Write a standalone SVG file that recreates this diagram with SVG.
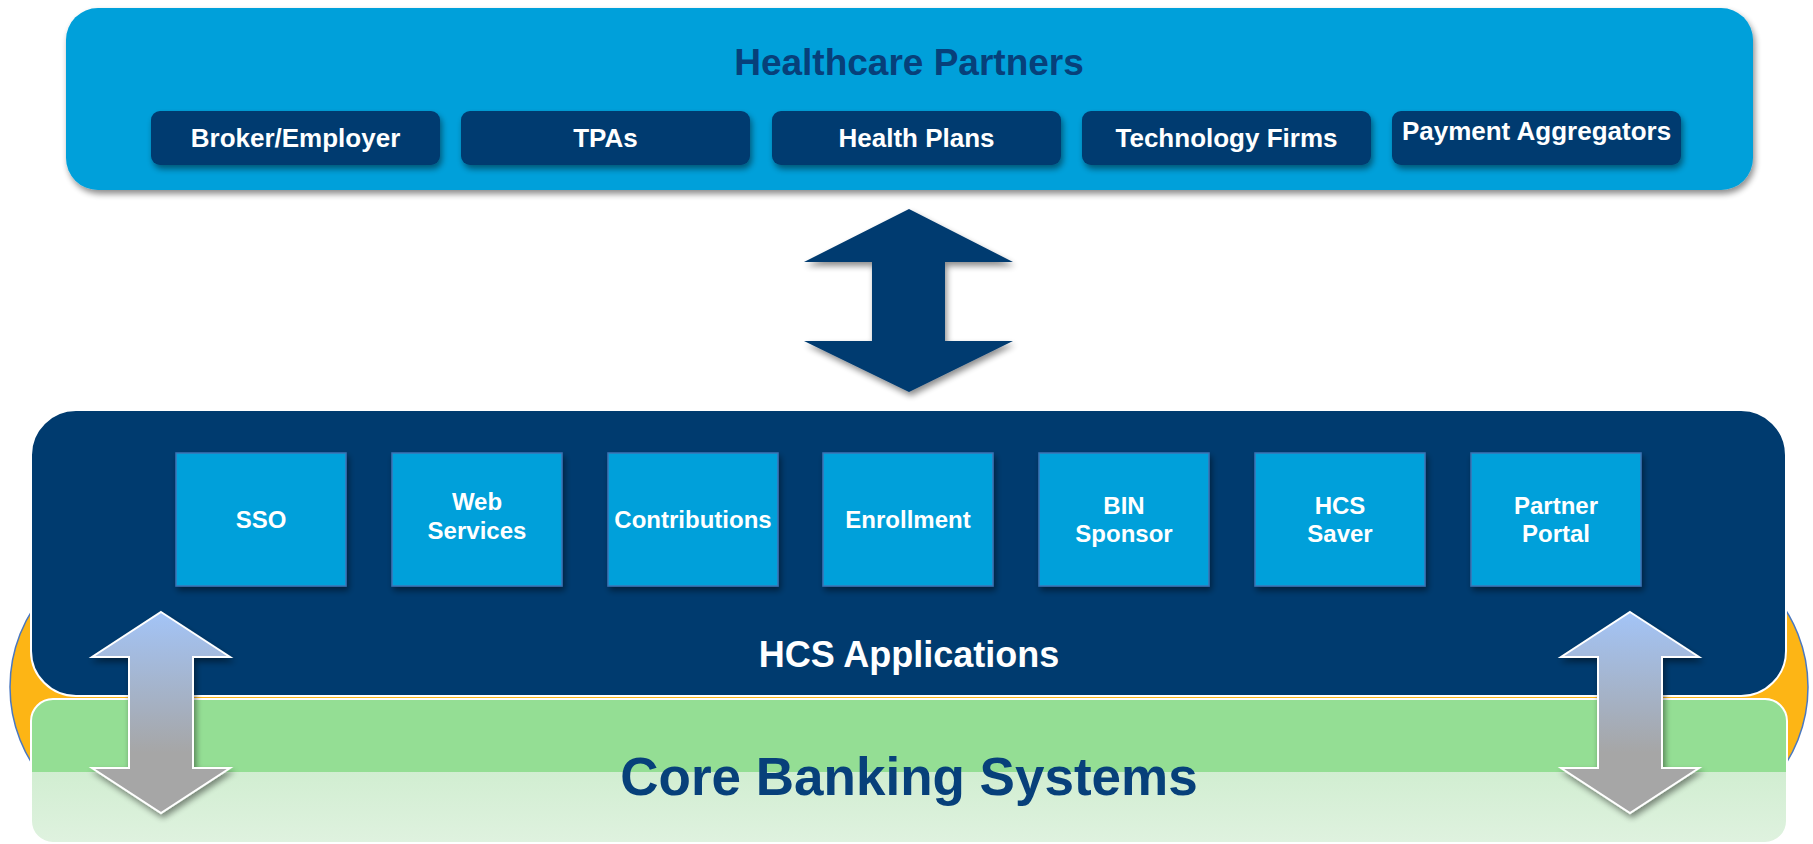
<svg xmlns="http://www.w3.org/2000/svg" width="1813" height="844" viewBox="0 0 1813 844">
<defs>
<style>
.t{font-family:"Liberation Sans",Arial,sans-serif;font-weight:bold;text-anchor:middle}
.pb{fill:#003B6F}
.pt{fill:#ffffff;font-size:26px}
.ab{fill:#00A0DA;stroke:#3D74B5;stroke-width:1.5}
.at{fill:#ffffff;font-size:24px}
.ga{fill:url(#gg);stroke:#ffffff;stroke-width:2}
</style>
<filter id="sh" x="-10%" y="-10%" width="130%" height="140%">
<feGaussianBlur in="SourceAlpha" stdDeviation="3"/>
<feOffset dx="2" dy="4" result="b"/>
<feComponentTransfer><feFuncA type="linear" slope="0.45"/></feComponentTransfer>
<feMerge><feMergeNode/><feMergeNode in="SourceGraphic"/></feMerge>
</filter>
<linearGradient id="gg" x1="0" y1="0" x2="0" y2="1">
<stop offset="0" stop-color="#A3C4F7"/>
<stop offset="0.7" stop-color="#A6A6A6"/>
<stop offset="1" stop-color="#A6A6A6"/>
</linearGradient>
<linearGradient id="gl" x1="0" y1="0" x2="0" y2="1">
<stop offset="0" stop-color="#C3E9C3"/>
<stop offset="1" stop-color="#DFF2DF"/>
</linearGradient>
<clipPath id="cg"><rect x="31" y="699" width="1756" height="144" rx="22"/></clipPath>
</defs>

<g id="orange-ring">
<rect x="10" y="543" width="1798" height="288" rx="144" fill="#FDB515" stroke="#4A78C0" stroke-width="1.5"/>
</g>

<g id="healthcare-partners">
<rect x="66" y="8" width="1687" height="182" rx="32" fill="#00A0DA" filter="url(#sh)"/>
<text class="t" x="909" y="75" font-size="37" fill="#07407A">Healthcare Partners</text>
</g>

<g id="broker-employer"><rect class="pb" x="151" y="111" width="289" height="54" rx="9" filter="url(#sh)"/><text class="t pt" x="295.5" y="147">Broker/Employer</text></g>
<g id="tpas"><rect class="pb" x="461" y="111" width="289" height="54" rx="9" filter="url(#sh)"/><text class="t pt" x="605.5" y="147">TPAs</text></g>
<g id="health-plans"><rect class="pb" x="772" y="111" width="289" height="54" rx="9" filter="url(#sh)"/><text class="t pt" x="916.5" y="147">Health Plans</text></g>
<g id="technology-firms"><rect class="pb" x="1082" y="111" width="289" height="54" rx="9" filter="url(#sh)"/><text class="t pt" x="1226.5" y="147">Technology Firms</text></g>
<g id="payment-aggregators"><rect class="pb" x="1392" y="111" width="289" height="54" rx="9" filter="url(#sh)"/><text class="t pt" x="1536.5" y="140" font-size="25">Payment Aggregators</text></g>

<g id="hcs-applications">
<rect x="31" y="410" width="1755" height="286" rx="45" fill="#003B6F" stroke="#ffffff" stroke-width="2"/>
<text class="t" x="909" y="667" font-size="36" fill="#ffffff">HCS Applications</text>
</g>

<g id="core-banking-systems">
<g clip-path="url(#cg)">
<rect x="31" y="699" width="1756" height="144" fill="url(#gl)"/>
<rect x="31" y="699" width="1756" height="73" fill="#94DE94"/>
</g>
<rect x="31" y="699" width="1756" height="144" rx="22" fill="none" stroke="#ffffff" stroke-width="2"/>
<text class="t" x="909" y="795" font-size="53" fill="#07407A">Core Banking Systems</text>
</g>

<g id="sso"><rect class="ab" x="176" y="453" width="170" height="133" filter="url(#sh)"/><text class="t at" x="261" y="528">SSO</text></g>
<g id="web-services"><rect class="ab" x="392" y="453" width="170" height="133" filter="url(#sh)"/><text class="t at" x="477" y="510">Web</text><text class="t at" x="477" y="539">Services</text></g>
<g id="contributions"><rect class="ab" x="608" y="453" width="170" height="133" filter="url(#sh)"/><text class="t at" x="693" y="528">Contributions</text></g>
<g id="enrollment"><rect class="ab" x="823" y="453" width="170" height="133" filter="url(#sh)"/><text class="t at" x="908" y="528">Enrollment</text></g>
<g id="bin-sponsor"><rect class="ab" x="1039" y="453" width="170" height="133" filter="url(#sh)"/><text class="t at" x="1124" y="514">BIN</text><text class="t at" x="1124" y="542">Sponsor</text></g>
<g id="hcs-saver"><rect class="ab" x="1255" y="453" width="170" height="133" filter="url(#sh)"/><text class="t at" x="1340" y="514">HCS</text><text class="t at" x="1340" y="542">Saver</text></g>
<g id="partner-portal"><rect class="ab" x="1471" y="453" width="170" height="133" filter="url(#sh)"/><text class="t at" x="1556" y="514">Partner</text><text class="t at" x="1556" y="542">Portal</text></g>

<g id="connectors">
<polygon points="909,209 1013,262 945,262 945,341 1013,341 909,392 804,341 872,341 872,262 804,262" fill="#003B6F" filter="url(#sh)"/>
<polygon class="ga" points="161,612 230,657 193,657 193,768 230,768 161,813 92,768 129,768 129,657 92,657" filter="url(#sh)"/>
<polygon class="ga" points="1630,612 1699,657 1662,657 1662,768 1699,768 1630,813 1561,768 1598,768 1598,657 1561,657" filter="url(#sh)"/>
</g>
</svg>
